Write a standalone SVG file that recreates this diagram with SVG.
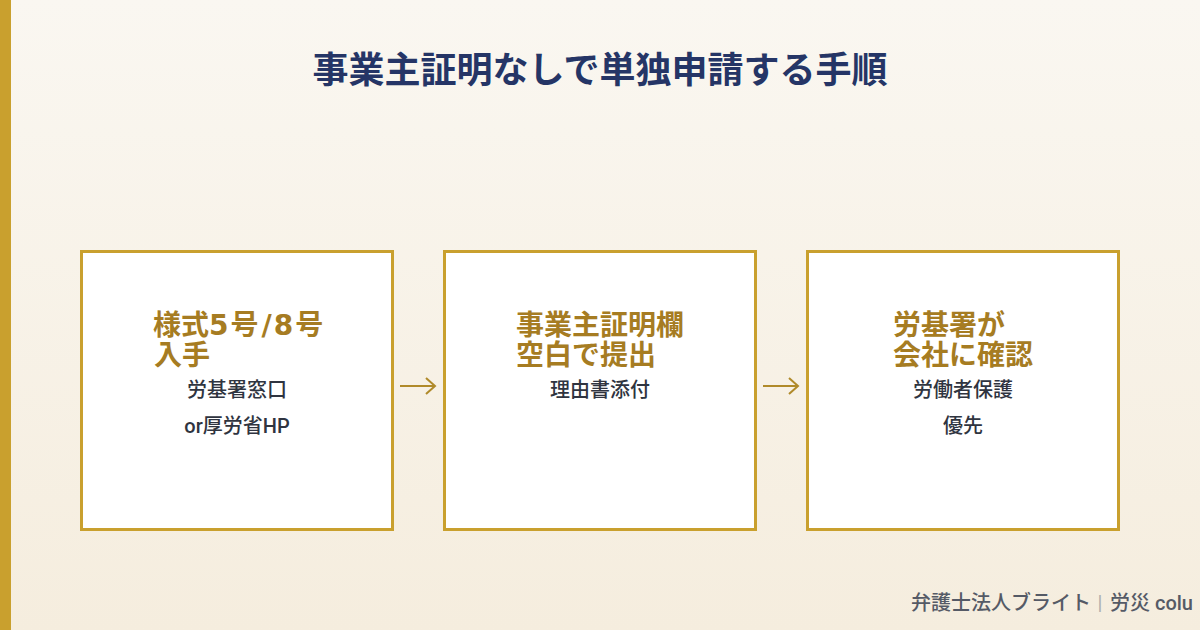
<svg xmlns="http://www.w3.org/2000/svg" width="1200" height="630" viewBox="0 0 1200 630">
<defs>
<linearGradient id="bg" x1="0" y1="0" x2="0" y2="1">
<stop offset="0" stop-color="#FAF7F1"/>
<stop offset="1" stop-color="#F5EDDE"/>
</linearGradient>
<style>
.box{fill:#FFFFFF;stroke:#C9A02E;stroke-width:3}
.ttl{font-family:Roboto,"Noto Sans CJK JP",sans-serif;font-weight:700;font-size:28px;fill:#A67C22}
.lat{font-family:"DejaVu Sans",sans-serif}
.sub{font-family:Roboto,"Noto Sans CJK JP",sans-serif;font-weight:500;font-size:20px;fill:#2F3440;text-anchor:middle}
.arr{fill:none;stroke:#B08A2A;stroke-width:2;stroke-linecap:butt;stroke-linejoin:miter}
</style>
</defs>
<rect x="0" y="0" width="1200" height="630" fill="url(#bg)"/>
<rect x="0" y="0" width="11" height="630" fill="#C9A02E"/>
<text id="title" x="600" y="83" text-anchor="middle" font-family="'Noto Sans CJK JP','Noto Sans',sans-serif" font-weight="700" font-size="36" fill="#253566">事業主証明なしで単独申請する手順</text>
<g id="node1">
<rect class="box" x="81.5" y="251.5" width="311" height="278"/>
<text class="ttl"><tspan x="153" y="335">様式<tspan class="lat" letter-spacing="2">5</tspan>号<tspan class="lat" dx="3" letter-spacing="2">/</tspan><tspan class="lat" letter-spacing="2">8</tspan>号</tspan><tspan x="154" y="365">入手</tspan></text>
<text class="sub" x="237" y="397">労基署窓口</text>
<text class="sub" x="237" y="433">or厚労省HP</text>
</g>
<g id="node2">
<rect class="box" x="444.5" y="251.5" width="311" height="278"/>
<text class="ttl"><tspan x="516" y="335">事業主証明欄</tspan><tspan x="516" y="365">空白で提出</tspan></text>
<text class="sub" x="600" y="397">理由書添付</text>
</g>
<g id="node3">
<rect class="box" x="807.5" y="251.5" width="311" height="278"/>
<text class="ttl"><tspan x="893" y="335">労基署が</tspan><tspan x="893" y="365">会社に確認</tspan></text>
<text class="sub" x="963" y="397">労働者保護</text>
<text class="sub" x="963" y="433">優先</text>
</g>
<g id="connectors">
<path class="arr" d="M400 386 H435 M426 378 L435 386 L426 394"/>
<path class="arr" d="M763 386 H798 M789 378 L798 386 L789 394"/>
</g>
<text id="footer" x="911" y="610" font-family="Roboto,'Noto Sans CJK JP',sans-serif" font-weight="500" font-size="20" fill="#555A66">弁護士法人ブライト<tspan fill="#ADADAD" font-weight="400" x="1097.5">|</tspan><tspan x="1110">労災 colu</tspan></text>
</svg>
